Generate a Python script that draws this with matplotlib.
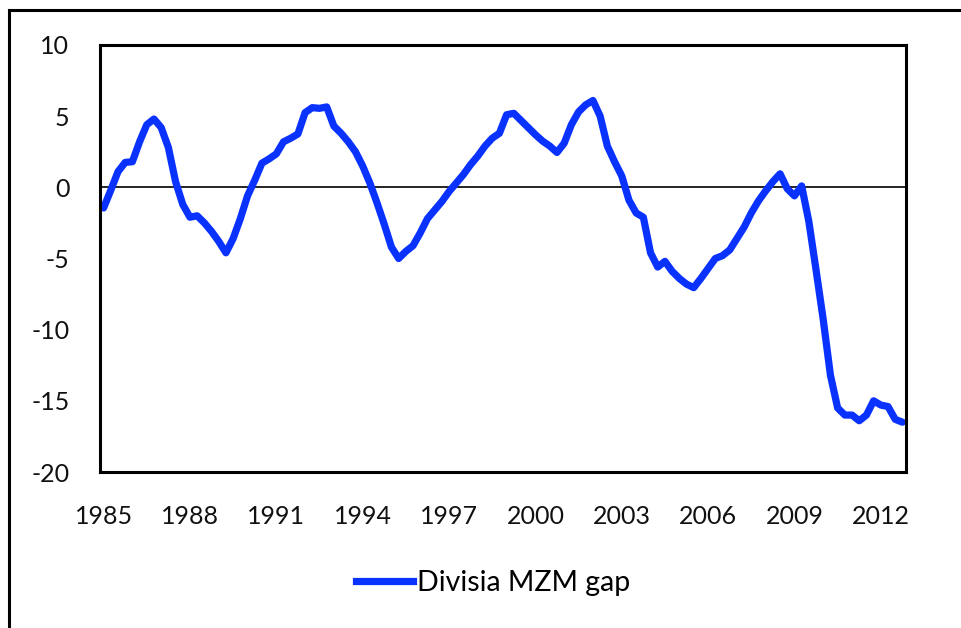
import matplotlib
matplotlib.use("Agg")
import matplotlib.pyplot as plt
from matplotlib.lines import Line2D
import numpy as np

# quarterly Divisia MZM gap, 1985Q1 - 2012Q4
start_year = 1985
gap = [
    -1.45, -0.2, 1.1, 1.75, 1.8, 3.2, 4.4, 4.8, 4.2, 2.8, 0.4, -1.2,
    -2.1, -2.0, -2.5, -3.1, -3.8, -4.6, -3.6, -2.2, -0.6, 0.5, 1.7, 2.0,
    2.35, 3.2, 3.45, 3.75, 5.25, 5.6, 5.55, 5.65, 4.3, 3.8, 3.2, 2.5,
    1.5, 0.3, -1.1, -2.6, -4.2, -5.0, -4.5, -4.1, -3.2, -2.2, -1.6, -1.0,
    -0.3, 0.3, 0.9, 1.6, 2.2, 2.9, 3.45, 3.8, 5.1, 5.2, 4.7, 4.2,
    3.7, 3.25, 2.9, 2.45, 3.1, 4.4, 5.3, 5.8, 6.1, 5.0, 2.9, 1.8,
    0.8, -0.9, -1.8, -2.1, -4.6, -5.6, -5.2, -5.9, -6.4, -6.8, -7.05, -6.4,
    -5.7, -5.0, -4.8, -4.4, -3.6, -2.8, -1.8, -0.95, -0.25, 0.4, 0.95, -0.1,
    -0.6, 0.1, -2.4, -5.8, -9.3, -13.2, -15.5, -16.0, -16.0, -16.4, -16.0, -15.0,
    -15.3, -15.4, -16.3, -16.5,
]
year_ticks = list(range(1985, 2013, 3))
y_ticks = [-20, -15, -10, -5, 0, 5, 10]
series_name = "Divisia MZM gap"

plt.rcParams["font.family"] = ["Lato", "DejaVu Sans"]
plt.rcParams["axes.unicode_minus"] = False

W, H = 961, 628
fig = plt.figure(figsize=(W / 100, H / 100), dpi=100)

# outer chart frame (top and left edges visible)
fig.add_artist(Line2D([9 / W, 1.0], [1 - 10 / H, 1 - 10 / H], color="black", lw=2.2))
fig.add_artist(Line2D([9 / W, 9 / W], [0.0, 1 - 10 / H], color="black", lw=2.2))

left, right, top, bottom = 100, 906, 45, 472
ax = fig.add_axes([left / W, 1 - bottom / H, (right - left) / W, (bottom - top) / H])

x = start_year + np.arange(len(gap)) / 4
blue = "#0a32ff"
ax.axhline(0, color="black", lw=1.2, zorder=1)
ax.plot(x, gap, color=blue, lw=5.2, solid_joinstyle="round", solid_capstyle="round", zorder=2)

ax.set_xlim(start_year - 0.125, start_year + len(gap) / 4 - 0.125)
ax.set_ylim(-20, 10)
ax.set_xticks(year_ticks)
ax.set_xticklabels([str(y) for y in year_ticks])
ax.set_yticks(y_ticks)
ax.tick_params(axis="both", length=0, labelsize=18, colors="#111111")
ax.tick_params(axis="x", pad=24)
ax.tick_params(axis="y", pad=22)
for s in ax.spines.values():
    s.set_linewidth(2.2)
    s.set_color("black")

handle = Line2D([], [], color=blue, lw=5.2)
fig.legend([handle], [series_name], loc="center", bbox_to_anchor=(493 / W, 1 - 583 / H),
           frameon=False, fontsize=20.5, handlelength=2.0, handletextpad=0.15)

fig.savefig("out.png", dpi=100)
